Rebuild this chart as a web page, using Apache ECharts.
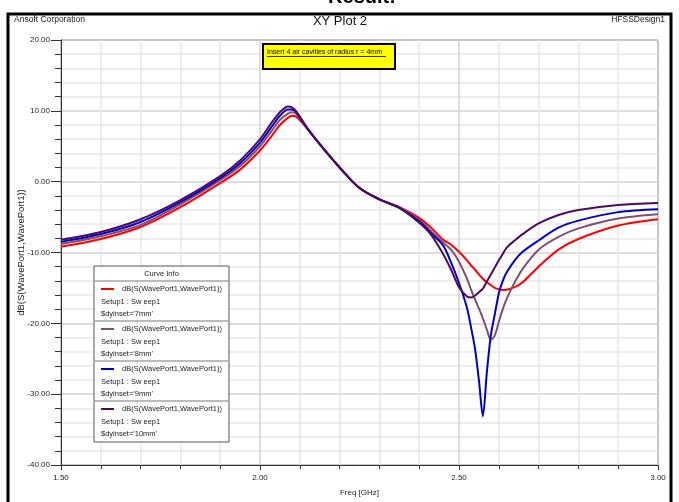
<!DOCTYPE html>
<html>
<head>
    <meta charset="utf-8">
    <title>XY Plot 2</title>
    <script src="https://cdn.jsdelivr.net/npm/echarts@6/dist/echarts.min.js"></script>
    <style>
        html, body { margin: 0; padding: 0; background: #fff; }
    </style>
</head>
<body>
    <div id="main" style="width: 679px; height: 502px;"></div>
    <script type="text/javascript">
        // frequency samples (GHz)
        var freq = [1.5, 1.6, 1.7, 1.8, 1.9, 1.95, 2.0, 2.03, 2.05, 2.07,
            2.08, 2.09, 2.12, 2.15, 2.2, 2.25, 2.3, 2.35, 2.4, 2.43,
            2.46, 2.48, 2.5, 2.52, 2.53, 2.54, 2.55, 2.56, 2.57, 2.58,
            2.59, 2.6, 2.61, 2.62, 2.64, 2.66, 2.7, 2.75, 2.8, 2.9, 3.0];

        // dB(S(WavePort1,WavePort1)) for each $dyinset
        var s7mm = [-9.2, -8.1, -6.4, -3.6, -0.2, 1.7, 4.4, 6.5, 8.0, 9.0,
            9.3, 9.2, 7.4, 5.3, 2.0, -0.9, -2.5, -3.6, -5.1, -6.5,
            -8.2, -8.9, -9.9, -11.1, -11.8, -12.4, -13.1, -13.7, -14.2, -14.6,
            -15.0, -15.2, -15.3, -15.25, -14.9, -14.2, -12.0, -9.6, -8.1, -6.2, -5.3];
        var s8mm = [-8.8, -7.7, -6.1, -3.2, 0.2, 2.2, 5.0, 7.2, 8.7, 9.6,
            9.8, 9.6, 7.4, 5.3, 2.0, -0.9, -2.5, -3.6, -5.4, -7.0,
            -8.6, -9.6, -11.3, -13.7, -15.2, -16.6, -17.9, -19.3, -20.9, -22.3,
            -21.7, -19.8, -18.0, -16.5, -14.2, -12.3, -9.6, -7.8, -6.6, -5.2, -4.6];
        var s9mm = [-8.5, -7.4, -5.7, -2.9, 0.5, 2.6, 5.5, 7.8, 9.3, 10.2,
            10.2, 9.9, 7.4, 5.3, 2.0, -0.9, -2.5, -3.7, -5.6, -7.3,
            -9.0, -11.4, -14.3, -17.8, -20.5, -23.5, -28.0, -33.1, -26.9, -21.7,
            -18.7, -15.8, -14.0, -12.8, -11.1, -9.9, -8.3, -6.5, -5.5, -4.3, -3.9];
        var s10mm = [-8.2, -7.1, -5.3, -2.6, 0.8, 3.0, 6.0, 8.4, 9.8, 10.6,
            10.5, 10.0, 7.5, 5.3, 2.0, -0.9, -2.5, -3.7, -5.8, -7.5,
            -10.2, -12.4, -14.9, -16.2, -16.35, -16.1, -15.6, -15.1, -14.1, -13.1,
            -12.1, -11.1, -10.2, -9.3, -8.3, -7.4, -5.9, -4.7, -4.0, -3.3, -3.0];

        var curveValues = [s7mm, s8mm, s9mm, s10mm];
        var curveInsets = ['7mm', '8mm', '9mm', '10mm'];
        var curveColors = ['#ff0000', '#80506e', '#0000cc', '#4f0a5c'];

        var font = '"Liberation Sans", Arial, sans-serif';
        var myChart = echarts.init(document.getElementById('main'));

        var series = curveValues.map(function (vals, i) {
            return {
                name: "$dyinset='" + curveInsets[i] + "'",
                type: 'line',
                data: freq.map(function (f, k) { return [f, vals[k]]; }),
                showSymbol: false,
                smooth: 0.3,
                lineStyle: { color: curveColors[i], width: 2 },
                itemStyle: { color: curveColors[i] },
                z: 3 + i
            };
        });

        // Curve Info box (absolute coordinates from its top-left corner)
        var bx = 94, by = 266;
        var legendItems = [{
            type: 'rect',
            shape: { x: bx, y: by, width: 135, height: 176 },
            style: { fill: '#fff', stroke: '#555', lineWidth: 1 }
        }, {
            type: 'text',
            style: { text: 'Curve Info', x: bx + 67.5, y: by + 7.5, align: 'center', verticalAlign: 'middle', fill: '#222', font: '7.5px ' + font }
        }, {
            type: 'line',
            shape: { x1: bx + 1, y1: by + 15, x2: bx + 134, y2: by + 15 },
            style: { stroke: '#bbbbbb', lineWidth: 2 }
        }];
        curveInsets.forEach(function (ins, i) {
            var y0 = by + 40 * i;
            legendItems.push({
                type: 'line',
                shape: { x1: bx + 7, y1: y0 + 23, x2: bx + 20, y2: y0 + 23 },
                style: { stroke: curveColors[i], lineWidth: 2 }
            }, {
                type: 'text',
                style: { text: 'dB(S(WavePort1,WavePort1))', x: bx + 28, y: y0 + 23, verticalAlign: 'middle', fill: '#222', font: '7.5px ' + font }
            }, {
                type: 'text',
                style: { text: 'Setup1 : Sw eep1', x: bx + 7, y: y0 + 35.5, verticalAlign: 'middle', fill: '#222', font: '7.5px ' + font }
            }, {
                type: 'text',
                style: { text: "$dyinset='" + ins + "'", x: bx + 7, y: y0 + 47.5, verticalAlign: 'middle', fill: '#222', font: '7.5px ' + font }
            });
            if (i < curveInsets.length - 1) {
                legendItems.push({
                    type: 'line',
                    shape: { x1: bx + 1, y1: y0 + 55, x2: bx + 134, y2: y0 + 55 },
                    style: { stroke: '#bbbbbb', lineWidth: 2 }
                });
            }
        });
        legendItems.forEach(function (el, k) { el.z = 100 + k; });

        var option = {
            backgroundColor: '#fff',
            animation: false,
            grid: {
                left: 61, right: 21, top: 40, bottom: 30,
                show: true, backgroundColor: '#fff', borderColor: '#444', borderWidth: 1
            },
            xAxis: {
                type: 'value',
                min: 1.5, max: 3.0, interval: 0.5,
                name: 'Freq [GHz]',
                nameLocation: 'middle',
                nameGap: 24,
                nameTextStyle: { fontFamily: font, fontSize: 8, color: '#222' },
                axisLine: { onZero: false, lineStyle: { color: '#333', width: 1 } },
                axisTick: { show: true, length: 5, lineStyle: { color: '#333' } },
                minorTick: { show: true, splitNumber: 5, length: 4, lineStyle: { color: '#333' } },
                axisLabel: { fontFamily: font, fontSize: 8, color: '#222', margin: 9,
                    formatter: function (v) { return v.toFixed(2); } },
                splitLine: { show: true, lineStyle: { color: '#d2d2d2', width: 1.5 } },
                minorSplitLine: { show: true, lineStyle: { color: '#e8e8e8', width: 1.5 } }
            },
            yAxis: {
                type: 'value',
                min: -40, max: 20, interval: 10,
                name: 'dB(S(WavePort1,WavePort1))',
                nameLocation: 'middle',
                nameGap: 35,
                nameMoveOverlap: false,
                nameRotate: 90,
                nameTextStyle: { fontFamily: font, fontSize: 9.5, color: '#222' },
                axisLine: { show: true, onZero: false, lineStyle: { color: '#333', width: 1 } },
                axisTick: { show: true, length: 10, lineStyle: { color: '#333' } },
                minorTick: { show: true, splitNumber: 5, length: 6, lineStyle: { color: '#333' } },
                axisLabel: { fontFamily: font, fontSize: 8, color: '#222', margin: 11,
                    formatter: function (v) { return v.toFixed(2); } },
                splitLine: { show: true, lineStyle: { color: '#d2d2d2', width: 1.5 } },
                minorSplitLine: { show: true, lineStyle: { color: '#e8e8e8', width: 1.5 } }
            },
            graphic: [{
                type: 'text',
                style: { text: 'Result:', x: 362, y: 7, align: 'center', verticalAlign: 'bottom', fill: '#000', font: 'bold 20px ' + font }
            }, {
                type: 'rect',
                shape: { x: 8, y: 14, width: 663, height: 500 },
                style: { fill: 'none', stroke: '#000', lineWidth: 3 },
                z: 90
            }, {
                type: 'text',
                style: { text: 'Ansoft Corporation', x: 14, y: 20, verticalAlign: 'middle', fill: '#222', font: '8.5px ' + font }
            }, {
                type: 'text',
                style: { text: 'XY Plot 2', x: 340, y: 21, align: 'center', verticalAlign: 'middle', fill: '#111', font: '13px ' + font }
            }, {
                type: 'text',
                style: { text: 'HFSSDesign1', x: 665, y: 20, align: 'right', verticalAlign: 'middle', fill: '#222', font: '8.5px ' + font }
            }, {
                type: 'rect',
                shape: { x: 263, y: 44, width: 132, height: 25 },
                style: { fill: '#ffff00', stroke: '#000', lineWidth: 2 },
                z: 90
            }, {
                type: 'text',
                style: { text: 'Insert 4 air cavities of radius r = 4mm', x: 267, y: 52.5, verticalAlign: 'middle', fill: '#000', font: '7px ' + font },
                z: 91
            }, {
                type: 'line',
                shape: { x1: 267, y1: 56.5, x2: 386, y2: 56.5 },
                style: { stroke: '#000', lineWidth: 0.8 },
                z: 91
            }].concat(legendItems),
            series: series
        };

        myChart.setOption(option);
    </script>
</body>
</html>
